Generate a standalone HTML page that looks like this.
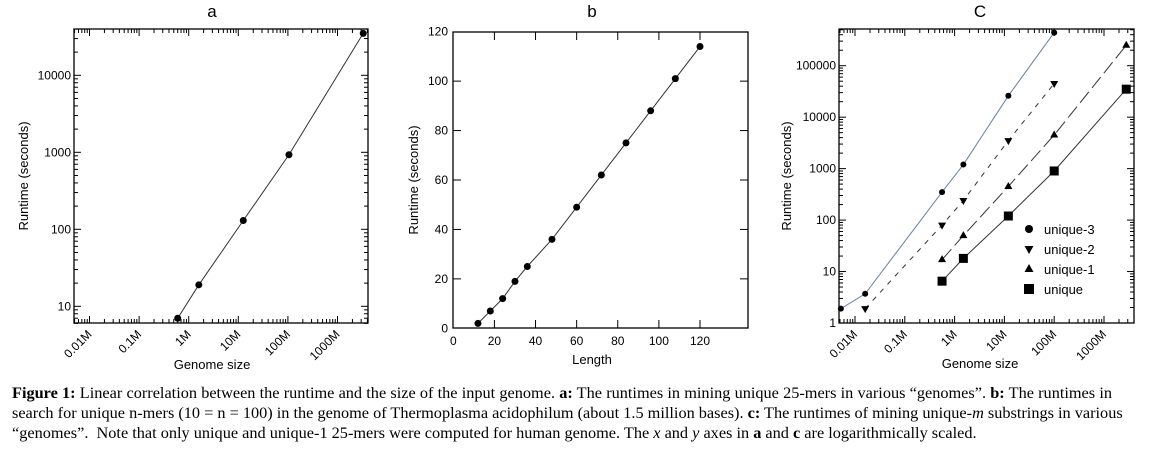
<!DOCTYPE html>
<html><head><meta charset="utf-8"><style>
html,body{margin:0;padding:0;background:#fff;width:1166px;height:455px;overflow:hidden;position:relative}
svg{position:absolute;left:0;top:0}
.cap{position:absolute;left:12px;width:1100px;font-family:"Liberation Serif",serif;font-size:16.3px;line-height:20px;white-space:nowrap;color:#000}
.j{text-align:justify;text-align-last:justify}
</style></head><body>
<svg id="chart" width="1166" height="370" font-family="Liberation Sans, sans-serif"></svg>
<div class="cap j" style="top:383px"><b>Figure 1:</b> Linear correlation between the runtime and the size of the input genome. <b>a:</b> The runtimes in mining unique 25-mers in various “genomes”. <b>b:</b> The runtimes in</div>
<div class="cap j" style="top:403px;width:1105px">search for unique n-mers (10 = n = 100) in the genome of Thermoplasma acidophilum (about 1.5 million bases). <b>c:</b> The runtimes of mining unique-<i>m</i> substrings in various</div>
<div class="cap" style="top:423px">“genomes”.&nbsp; Note that only unique and unique-1 25-mers were computed for human genome. The <i>x</i> and <i>y</i> axes in <b>a</b> and <b>c</b> are logarithmically scaled.</div>
<script>
// Panel a data (genome size in M, runtime s)
const aSizes=[0.6,1.6,12.6,105,3300];
const aRuntimes=[7,19,130,930,35000];
// Panel b data
const bLengths=[12,18,24,30,36,48,60,72,84,96,108,120];
const bRuntimes=[2,7,12,19,25,36,49,62,75,88,101,114];
// Panel c data
const cU3Sizes=[0.0052,0.016,0.56,1.5,12,100];
const cU3Runtimes=[1.9,3.7,350,1200,26000,440000];
const cU2Sizes=[0.016,0.56,1.5,12,100];
const cU2Runtimes=[1.9,80,240,3500,45000];
const cU1Sizes=[0.56,1.5,12,100,2800];
const cU1Runtimes=[17,50,450,4500,250000];
const cUSizes=[0.56,1.5,12,100,2800];
const cURuntimes=[6.5,18,120,900,35000];
const logXTicks=["0.01M","0.1M","1M","10M","100M","1000M"];
const logXTickVals=[0.01,0.1,1,10,100,1000];
const bXTicks=[0,20,40,60,80,100,120];
const bYTicks=[0,20,40,60,80,100,120];

const NS="http://www.w3.org/2000/svg";
const svg=document.getElementById('chart');
function el(tag,attrs,parent,text){const e=document.createElementNS(NS,tag);for(const k in attrs)e.setAttribute(k,attrs[k]);if(text!==undefined)e.textContent=text;(parent||svg).appendChild(e);return e;}

function logScale(v0,v1,p0,p1){const a=Math.log10(v0),b=Math.log10(v1);return v=>p0+(Math.log10(v)-a)/(b-a)*(p1-p0);}
function linScale(v0,v1,p0,p1){return v=>p0+(v-v0)/(v1-v0)*(p1-p0);}

function frame(g,L,T,R,B){el('rect',{x:L,y:T,width:R-L,height:B-T,fill:'none',stroke:'#000','stroke-width':1.3},g);}

function logTicksX(g,sx,L,R,T,B){
  for(let e=-4;e<=4;e++)for(let m=1;m<10;m++){const v=m*Math.pow(10,e);const x=sx(v);if(x<L+0.5||x>R-0.5)continue;const len=m===1?7:4;
    el('line',{x1:x,x2:x,y1:B,y2:B-len,stroke:'#000','stroke-width':1},g);el('line',{x1:x,x2:x,y1:T,y2:T+len,stroke:'#000','stroke-width':1},g);}
  logXTickVals.forEach((v,i)=>{const x=sx(v);const t=el('text',{x:x+3,y:B+12,'font-size':12,'text-anchor':'end',transform:`rotate(-45 ${x+3} ${B+12})`},g,logXTicks[i]);});
}
function logTicksY(g,sy,L,R,T,B,labels){
  for(let e=-1;e<=7;e++)for(let m=1;m<10;m++){const v=m*Math.pow(10,e);const y=sy(v);if(y<T+0.5||y>B+0.5)continue;const len=m===1?7:4;
    el('line',{x1:L,x2:L+len,y1:y,y2:y,stroke:'#000','stroke-width':1},g);el('line',{x1:R,x2:R-len,y1:y,y2:y,stroke:'#000','stroke-width':1},g);}
  labels.forEach(v=>{const y=sy(v);const t=el('text',{x:L-3,y:y+4,'font-size':12,'text-anchor':'end'},g,String(v));});
}
function series(g,xs,ys,sx,sy,opts){
  const pts=xs.map((x,i)=>[sx(x),sy(ys[i])]);
  const p=el('polyline',{points:pts.map(p=>p.join(',')).join(' '),fill:'none',stroke:opts.color||'#333','stroke-width':1,'stroke-dasharray':opts.dash||'none'},g);
  
  pts.forEach(([x,y])=>{const m=marker(g,opts.marker,x,y,opts.size||4);});
}
function marker(g,type,x,y,r){
  if(type==='circle')return el('circle',{cx:x,cy:y,r:r,fill:'#000'},g);
  if(type==='square')return el('rect',{x:x-r-1,y:y-r-1,width:2*r+2,height:2*r+2,fill:'#000'},g);
  if(type==='down')return el('polygon',{points:`${x-r-0.5},${y-r+1} ${x+r+0.5},${y-r+1} ${x},${y+r+1}`,fill:'#000'},g);
  return el('polygon',{points:`${x-r-0.5},${y+r-1} ${x+r+0.5},${y+r-1} ${x},${y-r-1}`,fill:'#000'},g);
}
function titles(g,cx,title,L,T,B,xlabel,ylx,xly){
  let t=el('text',{x:cx,y:17,'font-size':17,'text-anchor':'middle'},g,title);
  const my=(T+B)/2;
  t=el('text',{x:ylx,y:my,'font-size':13,'text-anchor':'middle',transform:`rotate(-90 ${ylx} ${my})`},g,'Runtime (seconds)');
  t=el('text',{x:cx,y:xly,'font-size':13,'text-anchor':'middle'},g,xlabel);
}

// Panel a
(function(){
  const g=el('g',{});
  const L=74,R=368,T=29,B=323;
  const sx=logScale(0.01,1000,89.5,337.5), sy=logScale(10,10000,306.3,75.3);
  titles(g,212,'a',L,T,B,'Genome size',28,369);
  frame(g,L,T,R,B);logTicksX(g,sx,L,R,T,B);logTicksY(g,sy,L,R,T,B,[10,100,1000,10000]);
  series(g,aSizes,aRuntimes,sx,sy,{marker:'circle',name:'unique-25mers',size:3.5});
})();
// Panel b
(function(){
  const g=el('g',{});
  const L=453,R=748,T=32,B=328;
  const sx=linScale(0,120,453.3,700), sy=linScale(0,120,328.3,31.7);
  titles(g,592,'b',L,T,B,'Length',418,364);
  frame(g,L,T,R,B);
  bXTicks.forEach(v=>{const x=sx(v);if(v>0){el('line',{x1:x,x2:x,y1:B,y2:B-8,stroke:'#000'},g);el('line',{x1:x,x2:x,y1:T,y2:T+8,stroke:'#000'},g);}
    const t=el('text',{x:x,y:B+17,'font-size':12,'text-anchor':'middle'},g,String(v));});
  bYTicks.forEach(v=>{const y=sy(v);if(v>0&&v<120){el('line',{x1:L,x2:L+8,y1:y,y2:y,stroke:'#000'},g);el('line',{x1:R,x2:R-8,y1:y,y2:y,stroke:'#000'},g);}
    const t=el('text',{x:L-5,y:y+4,'font-size':12,'text-anchor':'end'},g,String(v));});
  series(g,bLengths,bRuntimes,sx,sy,{marker:'circle',name:'runtime',size:3.5});
})();
// Panel c
(function(){
  const g=el('g',{});
  const L=839,R=1134,T=29,B=323;
  const sx=logScale(0.01,1000,855,1104), sy=logScale(1,100000,323,65.7);
  titles(g,980,'C',L,T,B,'Genome size',791,368);
  frame(g,L,T,R,B);logTicksX(g,sx,L,R,T,B);logTicksY(g,sy,L,R,T,B,[1,10,100,1000,10000,100000]);
  series(g,cU3Sizes,cU3Runtimes,sx,sy,{marker:'circle',name:'unique-3',size:3,color:'#6a7fa0'});
  series(g,cU2Sizes,cU2Runtimes,sx,sy,{marker:'down',name:'unique-2',size:3.5,dash:'5,6'});
  series(g,cU1Sizes,cU1Runtimes,sx,sy,{marker:'up',name:'unique-1',size:3.5,dash:'14,5'});
  series(g,cUSizes,cURuntimes,sx,sy,{marker:'square',name:'unique',size:3.5});
  const leg=[['circle','unique-3'],['down','unique-2'],['up','unique-1'],['square','unique']];
  leg.forEach((l,i)=>{const y=229+i*20;const lg=el('g',{},g);
    marker(lg,l[0],1029,y,4);el('text',{x:1044,y:y+5,'font-size':13},lg,l[1]);});
})();
</script>
</body></html>
